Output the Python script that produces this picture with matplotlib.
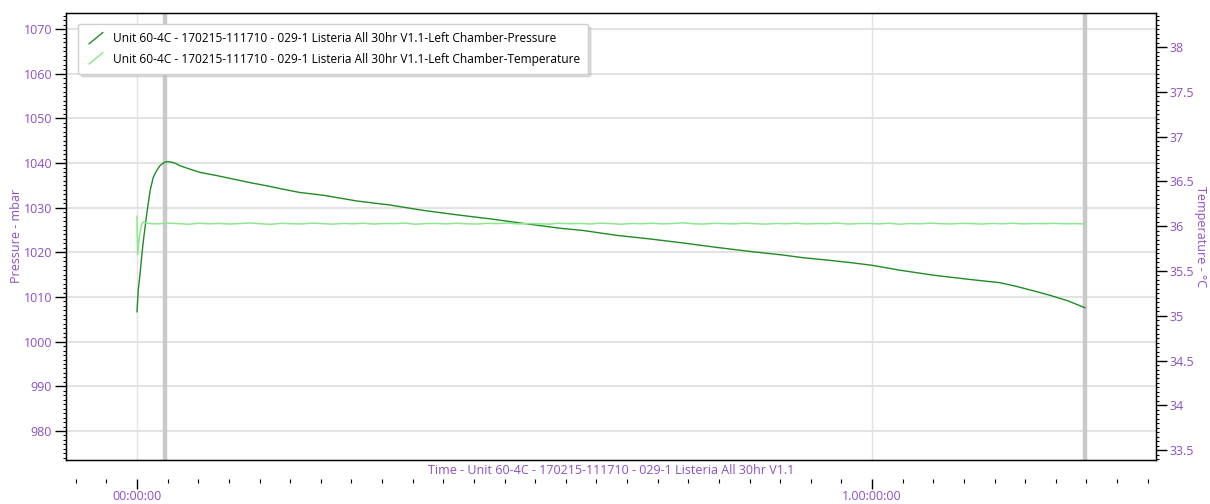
import matplotlib
matplotlib.use("Agg")
import matplotlib.pyplot as plt
import numpy as np
from matplotlib.legend_handler import HandlerLine2D
from matplotlib.lines import Line2D
from matplotlib.ticker import FixedLocator, MultipleLocator, FuncFormatter, NullLocator

plt.rcParams['font.family'] = ['Open Sans', 'DejaVu Sans']

PURPLE = '#8c4fc4'
GRID = '#e3e3e3'
RUN = 'Unit 60-4C - 170215-111710 - 029-1 Listeria All 30hr V1.1'

# pressure trace (hours since start, mbar)
p_hours = [0.0, 0.04, 0.10, 0.15, 0.21, 0.32, 0.43, 0.53, 0.64, 0.75, 0.84, 0.91, 1.00,
           1.13, 1.27, 1.40, 1.70, 2.06, 2.60, 3.15, 3.70, 4.24, 4.80, 5.32, 6.07,
           7.18, 8.26, 9.34, 10.45, 11.53, 12.60, 13.81, 14.56, 15.67, 16.75, 17.83,
           18.94, 20.02, 21.09, 21.75, 22.63, 23.30, 24.0, 24.91, 25.99, 27.10, 28.18,
           28.70, 29.26, 29.80, 30.37, 30.95]
pressure = [1006.7, 1011.5, 1015.2, 1018.9, 1022.7, 1028.7, 1033.9, 1036.8, 1038.3,
            1039.4, 1039.9, 1040.2, 1040.3, 1040.2, 1039.9, 1039.4, 1038.7, 1037.9,
            1037.2, 1036.4, 1035.6, 1034.9, 1034.1, 1033.4, 1032.8, 1031.5, 1030.6,
            1029.4, 1028.4, 1027.5, 1026.5, 1025.4, 1024.9, 1023.8, 1023.0, 1022.1,
            1021.1, 1020.2, 1019.4, 1018.8, 1018.2, 1017.7, 1017.1, 1016.0, 1014.9,
            1014.0, 1013.2, 1012.4, 1011.4, 1010.4, 1009.2, 1007.6]

# temperature trace (start-up transient, then settled readings every 20 min)
t_hours_start = [0.0, 0.02, 0.08, 0.15, 0.21, 0.26]
temp_start = [36.11, 35.68, 35.89, 36.02, 36.05, 36.04]
temp_settled = [
    36.031, 36.026, 36.034, 36.029, 36.022, 36.033, 36.027, 36.031, 36.024, 36.030,
    36.036, 36.027, 36.021, 36.032, 36.028, 36.025, 36.034, 36.029, 36.023, 36.031,
    36.027, 36.033, 36.024, 36.030, 36.028, 36.035, 36.022, 36.029, 36.031, 36.026,
    36.033, 36.027, 36.024, 36.032, 36.029, 36.036, 36.025, 36.030, 36.027, 36.023,
    36.033, 36.028, 36.031, 36.025, 36.034, 36.029, 36.022, 36.031, 36.027, 36.033,
    36.026, 36.030, 36.038, 36.027, 36.024, 36.032, 36.029, 36.026, 36.034, 36.028,
    36.023, 36.031, 36.027, 36.033, 36.025, 36.030, 36.028, 36.035, 36.024, 36.029,
    36.031, 36.026, 36.033, 36.022, 36.030, 36.027, 36.034, 36.028, 36.025, 36.032,
    36.029, 36.024, 36.031, 36.027, 36.033, 36.026, 36.030, 36.028, 36.032, 36.027,
    36.029, 36.025]
t_hours_settled = list(np.linspace(0.33, 30.95, len(temp_settled)))
t_hours = t_hours_start + t_hours_settled
temperature = temp_start + temp_settled

cursors = [0.91, 30.95]
XLIM = (-2.318, 33.27)


class DiagonalHandler(HandlerLine2D):
    def create_artists(self, legend, orig_handle, xdescent, ydescent, width, height, fontsize, trans):
        line = Line2D([-xdescent + 2, -xdescent + width - 2],
                      [-ydescent - 1, -ydescent + height + 1],
                      color=orig_handle.get_color(), lw=orig_handle.get_linewidth())
        line.set_transform(trans)
        return [line]


fig = plt.figure(figsize=(12.1, 5.04), dpi=100)
ax = fig.add_axes([66 / 1210, 1 - 460 / 504, 1090 / 1210, 447 / 504])
ax2 = ax.twinx()

ax.set_xlim(*XLIM)
ax.set_ylim(973.5, 1073.6)
ax2.set_ylim(33.39, 38.38)

# grid and cursor lines
for v in range(980, 1071, 10):
    ax.axhline(v, color=GRID, lw=1.5, zorder=0)
for h in (0, 24):
    ax.axvline(h, color=GRID, lw=1.0, zorder=0)
for c in cursors:
    ax.axvline(c, color='#c9c9c9', lw=3.2, zorder=1)

lp, = ax.plot(p_hours, pressure, color='#1f8c24', lw=1.0, zorder=3,
              label=RUN + '-Left Chamber-Pressure')
lt, = ax2.plot(t_hours, temperature, color='#8de88d', lw=1.1, zorder=2,
               label=RUN + '-Left Chamber-Temperature')

for spine in ax.spines.values():
    spine.set_color('black')
    spine.set_linewidth(1.0)

for a in (ax, ax2):
    a.xaxis.set_major_locator(NullLocator())
    a.xaxis.set_minor_locator(NullLocator())
    a.tick_params(axis='x', which='both', bottom=False, top=False, labelbottom=False)

ax.yaxis.set_major_locator(MultipleLocator(10))
ax.yaxis.set_minor_locator(MultipleLocator(1))
ax.tick_params(axis='y', which='major', length=8, width=1, colors='black',
               labelcolor=PURPLE, labelsize=9, pad=2)
ax.tick_params(axis='y', which='minor', length=2.5, width=0.8, colors='black')

ax2.yaxis.set_major_locator(MultipleLocator(0.5))
ax2.yaxis.set_minor_locator(MultipleLocator(0.05))
ax2.yaxis.set_major_formatter(FuncFormatter(lambda v, _: f'{v:g}'))
ax2.tick_params(axis='y', which='major', length=8, width=1, colors='black',
                labelcolor=PURPLE, labelsize=9, pad=2)
ax2.tick_params(axis='y', which='minor', length=2.5, width=0.8, colors='black')

# separate strip for the time ticks, a little below the plot frame
tax = fig.add_axes([66 / 1210, 1 - 479 / 504, 1090 / 1210, 1e-4])
tax.set_xlim(*XLIM)
tax.patch.set_visible(False)
for spine in tax.spines.values():
    spine.set_visible(False)
tax.yaxis.set_major_locator(NullLocator())
tax.xaxis.set_major_locator(FixedLocator([0, 24]))
tax.xaxis.set_minor_locator(FixedLocator(range(-2, 34)))
tax.xaxis.set_major_formatter(FuncFormatter(
    lambda v, _: '00:00:00' if v == 0 else f'{int(v // 24)}.00:00:00'))
tax.tick_params(which='major', length=7, width=1, colors='black',
                labelcolor=PURPLE, labelsize=9, pad=1)
tax.tick_params(which='minor', length=3, width=0.8, colors='black')

ax.text(0.5, -10 / 447, 'Time - ' + RUN, transform=ax.transAxes, ha='center',
        va='center', color=PURPLE, fontsize=9)
fig.text(17 / 1210, 1 - 236 / 504, 'Pressure - mbar', rotation=90, ha='center',
         va='center', color=PURPLE, fontsize=9)
fig.text(1201 / 1210, 1 - 237 / 504, 'Temperature - °C', rotation=270, ha='center',
         va='center', color=PURPLE, fontsize=9)

leg = ax2.legend(handles=[lp, lt], loc='upper left', bbox_to_anchor=(12 / 1090, 1 - 11 / 447),
                 borderaxespad=0, fontsize=8.6, frameon=True, fancybox=True,
                 shadow={'color': '0.75', 'alpha': 0.5}, handlelength=1.6,
                 handletextpad=0.6, labelspacing=0.6, borderpad=0.7,
                 handler_map={Line2D: DiagonalHandler()})
leg.get_frame().set_edgecolor('#cfcfcf')
leg.get_frame().set_linewidth(1.0)
leg.set_zorder(10)

fig.savefig('out.png', dpi=100)
